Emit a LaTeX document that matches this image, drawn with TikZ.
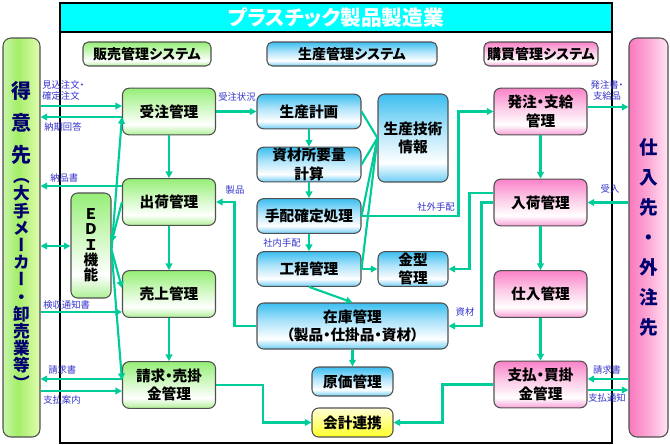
\documentclass[tikz,border=0pt]{standalone}
\usepackage{fontspec}
\setmainfont{Noto Sans CJK JP}[RawFeature=+palt]
\newfontfamily\vertfont{Noto Sans CJK JP}[RawFeature=+vert]
\usetikzlibrary{arrows.meta, shadings}

\definecolor{LinkColor}{RGB}{0,204,153}
\definecolor{TagBlue}{RGB}{51,51,204}
\definecolor{NavyText}{RGB}{0,0,110}
\definecolor{BoxEdge}{RGB}{80,80,80}
\definecolor{TitleCyan}{RGB}{0,255,255}
\definecolor{SalesTop}{RGB}{150,238,120}
\definecolor{SalesMid}{RGB}{205,248,190}
\definecolor{SalesEdge}{RGB}{175,240,150}
\definecolor{ProdTop}{RGB}{60,190,240}
\definecolor{ProdMid}{RGB}{175,228,250}
\definecolor{ProdEdge}{RGB}{110,205,245}
\definecolor{BuyTop}{RGB}{250,130,200}
\definecolor{BuyMid}{RGB}{252,200,230}
\definecolor{BuyEdge}{RGB}{250,160,215}
\definecolor{AcctTop}{RGB}{255,255,215}
\definecolor{AcctEdge}{RGB}{255,255,40}
\definecolor{CustA}{RGB}{200,245,170}
\definecolor{CustB}{RGB}{165,238,105}
\definecolor{CustC}{RGB}{225,252,175}
\definecolor{SuppA}{RGB}{250,120,190}
\definecolor{SuppB}{RGB}{252,170,215}
\definecolor{SuppC}{RGB}{255,228,242}

\pgfdeclareverticalshading{SalesShade}{100bp}{color(0bp)=(SalesEdge); color(25bp)=(SalesEdge); color(36bp)=(white); color(55bp)=(SalesMid); color(75bp)=(SalesTop); color(100bp)=(SalesTop)}
\pgfdeclareverticalshading{ProdShade}{100bp}{color(0bp)=(ProdEdge); color(25bp)=(ProdEdge); color(36bp)=(white); color(55bp)=(ProdMid); color(75bp)=(ProdTop); color(100bp)=(ProdTop)}
\pgfdeclareverticalshading{BuyShade}{100bp}{color(0bp)=(BuyEdge); color(25bp)=(BuyEdge); color(36bp)=(white); color(55bp)=(BuyMid); color(75bp)=(BuyTop); color(100bp)=(BuyTop)}
\pgfdeclareverticalshading{AcctShade}{100bp}{color(0bp)=(AcctEdge); color(25bp)=(AcctEdge); color(75bp)=(AcctTop); color(100bp)=(AcctTop)}
\pgfdeclarehorizontalshading{CustShade}{100bp}{color(0bp)=(CustA); color(25bp)=(CustA); color(45bp)=(CustB); color(75bp)=(CustC); color(100bp)=(CustC)}
\pgfdeclarehorizontalshading{SuppShade}{100bp}{color(0bp)=(SuppA); color(25bp)=(SuppA); color(50bp)=(SuppB); color(75bp)=(SuppC); color(100bp)=(SuppC)}

\newcommand\boxfont{\fontsize{11}{14}\selectfont\bfseries}
\newcommand\hdrfont{\fontsize{10.5}{12}\selectfont\bfseries}
\newcommand\tagfont{\fontsize{7}{8}\selectfont}
\newcommand\titlefont{\fontsize{15.5}{17}\selectfont\bfseries}

\tikzset{
  >={Triangle[length=5pt,width=5pt]},
  box/.style={draw=BoxEdge, line width=0.8pt, rounded corners=5pt, inner sep=0pt, align=center, font=\boxfont},
  salesbox/.style={box, shade, shading=SalesShade, minimum width=69.75pt, minimum height=35pt},
  buybox/.style={box, shade, shading=BuyShade, minimum width=69.75pt, minimum height=35pt},
  prodbox/.style={box, shade, shading=ProdShade, minimum width=78pt, minimum height=26pt},
  hdr/.style={box, rounded corners=4pt, font=\hdrfont, minimum height=18pt},
  sidebar/.style={draw=BoxEdge, line width=0.8pt, rounded corners=6pt, shade, minimum height=299.25pt},
  sidetext/.style={text=NavyText, align=center, inner sep=0pt},
  link/.style={draw=LinkColor, line width=1.6pt, ->},
  wire/.style={draw=LinkColor, line width=1.6pt},
  tag/.style={text=TagBlue, font=\tagfont, inner sep=0pt, align=left},
}

\begin{document}
\begin{tikzpicture}[x=0.75pt, y=-0.75pt]
\useasboundingbox (0,0) rectangle (670,444);

% frame and title
\draw[line width=1.5pt] (60,3) rectangle (612,443);
\node[draw, line width=1pt, fill=TitleCyan, minimum width=414pt, minimum height=21.75pt, text=white, font=\titlefont] (title) at (336,17.5) {プラスチック製品製造業};

% customers / suppliers
\node[sidebar, shading=CustShade, minimum width=27.75pt] (custBar) at (21.5,237.5) {};
\node[sidebar, shading=SuppShade, minimum width=29.25pt] (suppBar) at (648.5,237.5) {};
\node[sidetext, font=\vertfont\fontsize{15}{24}\selectfont\bfseries] (custTop) at (21.5,123) {得\\意\\先};
\node[sidetext, font=\vertfont\fontsize{12.5}{12.9}\selectfont\bfseries] (custSub) at (21.5,284) {（\\大\\手\\メ\\ー\\カ\\ー\\・\\卸\\売\\業\\等\\）};
\node[sidetext, font=\vertfont\fontsize{14}{22.5}\selectfont\bfseries] (suppText) at (648.5,237) {仕\\入\\先\\・\\外\\注\\先};

% system headers
\node[hdr, shade, shading=SalesShade, minimum width=96pt] (hdrSales) at (147,54) {販売管理システム};
\node[hdr, shade, shading=ProdShade, minimum width=127.5pt] (hdrProd) at (352,54) {生産管理システム};
\node[hdr, shade, shading=BuyShade, minimum width=85.5pt] (hdrBuy) at (541,54) {購買管理システム};

% sales
\node[salesbox] (juchu) at (169,111.5) {受注管理};
\node[salesbox] (shukka) at (169,202) {出荷管理};
\node[salesbox] (uriage) at (169,294) {売上管理};
\node[salesbox] (seikyu) at (169,385) {請求・売掛\\金管理};
\node[box, shade, shading=SalesShade, minimum width=30pt, minimum height=78.75pt, font=\vertfont\fontsize{11}{11.5}\selectfont\bfseries] (edi) at (91,245.5) {Ｅ\\Ｄ\\Ｉ\\機\\能};

% production
\node[prodbox] (keikaku) at (309,111.5) {生産計画};
\node[prodbox] (shizai) at (309,164.5) {資材所要量\\計算};
\node[prodbox] (tehai) at (309,216) {手配確定処理};
\node[prodbox] (koutei) at (309,269) {工程管理};
\node[prodbox, minimum width=52.5pt, minimum height=66pt] (gijutsu) at (413,138) {生産技術\\情報};
\node[prodbox, minimum width=52.5pt] (kanagata) at (413,269) {金型\\管理};
\node[prodbox, minimum width=143.25pt, minimum height=34.5pt] (zaiko) at (352.5,326) {在庫管理\\（製品・仕掛品・資材）};
\node[prodbox, minimum width=60.75pt, minimum height=21.75pt] (genka) at (352.5,381.5) {原価管理};
\node[box, shade, shading=AcctShade, minimum width=60.75pt, minimum height=21.75pt] (kaikei) at (352.5,422.5) {会計連携};

% purchasing
\node[buybox] (hatchu) at (540.5,111.5) {発注・支給\\管理};
\node[buybox] (nyuka) at (540.5,202.5) {入荷管理};
\node[buybox] (shiire) at (540.5,294) {仕入管理};
\node[buybox] (shiharai) at (540.5,384.5) {支払・買掛\\金管理};

% customer side flows
\draw[link] (custBar.east |- 0,106) -- (juchu.west |- 0,106);
\draw[link] (juchu.west |- 0,117) -- (custBar.east |- 0,117);
\draw[link] (shukka.west |- 0,186) -- (custBar.east |- 0,186);
\draw[link, <->] (custBar.east |- 0,246) -- (edi.west |- 0,246);
\draw[link] (custBar.east |- 0,312) -- (uriage.west |- 0,312);
\draw[link] (seikyu.west |- 0,379) -- (custBar.east |- 0,379);
\draw[link] (custBar.east |- 0,391) -- (seikyu.west |- 0,391);
\node[tag, anchor=west] (tagMikomi) at (42,90.5) {見込注文・\\確定注文};
\node[tag, anchor=west] (tagNouki) at (44,127) {納期回答};
\node[tag, anchor=west] (tagNouhin) at (50,178) {納品書};
\node[tag, anchor=west] (tagKenshu) at (43,305) {検収通知書};
\node[tag, anchor=west] (tagSeikyuL) at (48,370) {請求書};
\node[tag, anchor=west] (tagShiharaiL) at (43,400) {支払案内};

% EDI
\draw[link] (shukka.west) -- (edi.east |- 0,242);
\draw[link] (edi.east |- 0,250) -- (juchu.west |- 0,117);
\draw[link] (edi.east |- 0,250) -- (uriage.west |- 0,288);
\draw[link] (edi.east |- 0,250) -- (seikyu.west |- 0,380);

% sales chain
\draw[link] (juchu) -- (shukka);
\draw[link] (shukka) -- (uriage);
\draw[link] (uriage) -- (seikyu);
\draw[link] (juchu.east) -- (keikaku.west);
\node[tag, anchor=west] (tagJokyo) at (218,97) {受注状況};

% production chain
\draw[link] (keikaku) -- (shizai);
\draw[link] (shizai) -- (tehai);
\draw[link] (tehai) -- (koutei);
\node[tag] (tagShanai) at (282,243) {社内手配};
\draw[wire] (gijutsu.west) -- (keikaku.east);
\draw[wire] (gijutsu.west) -- (shizai.east);
\draw[wire] (gijutsu.west) -- (tehai.east);
\draw[wire] (gijutsu.west) -- (koutei.east);
\draw[link] (koutei.east) -- (kanagata.west);
\draw[link] (tehai.east) -- ++(97,0) |- (hatchu.west);
\node[tag] (tagShagai) at (436,207) {社外手配};
\draw[link] (koutei.south) -- (zaiko.north);
\draw[link] (zaiko) -- (genka);
\draw[link] (zaiko.west) -- ++(-22,0) |- (shukka.east);
\node[tag] (tagSeihin) at (235,190) {製品};

% purchasing chain
\draw[link] ([yshift=7pt]nyuka.west) -- ++(-24,0) |- (kanagata.east);
\draw[link] (nyuka.west) -- ++(-12,0) |- (zaiko.east);
\node[tag] (tagShizai) at (465,312) {資材};
\draw[link] (hatchu) -- (nyuka);
\draw[link] (nyuka) -- (shiire);
\draw[link] (shiire) -- (shiharai);

% accounting
\draw[link] (seikyu.east) -- ++(47,0) |- (kaikei.west);
\draw[link] (shiharai.west) -- ++(-51,0) |- (kaikei.east);

% supplier side flows
\draw[link] (hatchu.east |- 0,107) -- (suppBar.west |- 0,107);
\draw[link] (suppBar.west |- nyuka.east) -- (nyuka.east);
\draw[link] (suppBar.west |- 0,379) -- (shiharai.east |- 0,379);
\draw[link] (shiharai.east |- 0,390) -- (suppBar.west |- 0,390);
\node[tag, align=center] (tagHatchu) at (607,90.5) {発注書・\\支給品};
\node[tag] (tagUkeire) at (610,189) {受入};
\node[tag] (tagSeikyuR) at (607,370) {請求書};
\node[tag] (tagTsuchi) at (607,398) {支払通知};
\end{tikzpicture}
\end{document}
